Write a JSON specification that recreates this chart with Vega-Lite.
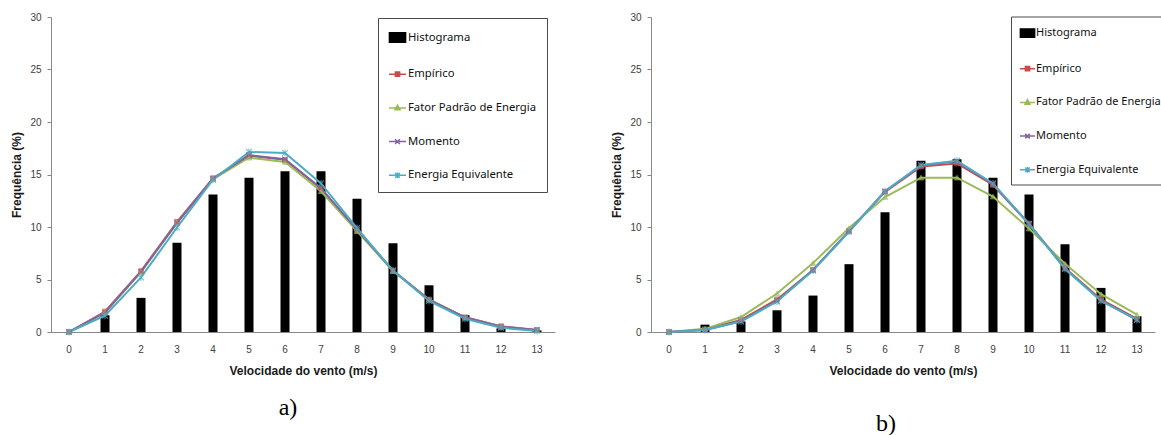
{
  "$schema": "https://vega.github.io/schema/vega-lite/v6.json",
  "background": "white",
  "padding": {"left": 10, "top": 12, "right": 0, "bottom": 0},
  "bounds": "flush",
  "spacing": 96,
  "datasets": {
    "a": [
      {"x": 0, "serie": "Histograma", "v": 0},
      {"x": 1, "serie": "Histograma", "v": 1.6},
      {"x": 2, "serie": "Histograma", "v": 3.25},
      {"x": 3, "serie": "Histograma", "v": 8.5},
      {"x": 4, "serie": "Histograma", "v": 13.1},
      {"x": 5, "serie": "Histograma", "v": 14.7},
      {"x": 6, "serie": "Histograma", "v": 15.3},
      {"x": 7, "serie": "Histograma", "v": 15.3},
      {"x": 8, "serie": "Histograma", "v": 12.7},
      {"x": 9, "serie": "Histograma", "v": 8.45},
      {"x": 10, "serie": "Histograma", "v": 4.45},
      {"x": 11, "serie": "Histograma", "v": 1.6},
      {"x": 12, "serie": "Histograma", "v": 0.35},
      {"x": 13, "serie": "Histograma", "v": 0.15},
      {"x": 0, "serie": "Empírico", "v": 0},
      {"x": 1, "serie": "Empírico", "v": 1.95},
      {"x": 2, "serie": "Empírico", "v": 5.8},
      {"x": 3, "serie": "Empírico", "v": 10.5},
      {"x": 4, "serie": "Empírico", "v": 14.65},
      {"x": 5, "serie": "Empírico", "v": 16.8},
      {"x": 6, "serie": "Empírico", "v": 16.4},
      {"x": 7, "serie": "Empírico", "v": 13.65},
      {"x": 8, "serie": "Empírico", "v": 9.7},
      {"x": 9, "serie": "Empírico", "v": 5.85},
      {"x": 10, "serie": "Empírico", "v": 3.1},
      {"x": 11, "serie": "Empírico", "v": 1.4},
      {"x": 12, "serie": "Empírico", "v": 0.55},
      {"x": 13, "serie": "Empírico", "v": 0.2},
      {"x": 0, "serie": "Fator Padrão de Energia", "v": 0},
      {"x": 1, "serie": "Fator Padrão de Energia", "v": 1.85},
      {"x": 2, "serie": "Fator Padrão de Energia", "v": 5.7},
      {"x": 3, "serie": "Fator Padrão de Energia", "v": 10.4},
      {"x": 4, "serie": "Fator Padrão de Energia", "v": 14.55},
      {"x": 5, "serie": "Fator Padrão de Energia", "v": 16.6},
      {"x": 6, "serie": "Fator Padrão de Energia", "v": 16.2},
      {"x": 7, "serie": "Fator Padrão de Energia", "v": 13.4},
      {"x": 8, "serie": "Fator Padrão de Energia", "v": 9.6},
      {"x": 9, "serie": "Fator Padrão de Energia", "v": 5.8},
      {"x": 10, "serie": "Fator Padrão de Energia", "v": 3.1},
      {"x": 11, "serie": "Fator Padrão de Energia", "v": 1.4},
      {"x": 12, "serie": "Fator Padrão de Energia", "v": 0.5},
      {"x": 13, "serie": "Fator Padrão de Energia", "v": 0.15},
      {"x": 0, "serie": "Momento", "v": 0},
      {"x": 1, "serie": "Momento", "v": 1.85},
      {"x": 2, "serie": "Momento", "v": 5.75},
      {"x": 3, "serie": "Momento", "v": 10.4},
      {"x": 4, "serie": "Momento", "v": 14.6},
      {"x": 5, "serie": "Momento", "v": 16.85},
      {"x": 6, "serie": "Momento", "v": 16.45},
      {"x": 7, "serie": "Momento", "v": 13.7},
      {"x": 8, "serie": "Momento", "v": 9.75},
      {"x": 9, "serie": "Momento", "v": 5.85},
      {"x": 10, "serie": "Momento", "v": 3.05},
      {"x": 11, "serie": "Momento", "v": 1.4},
      {"x": 12, "serie": "Momento", "v": 0.5},
      {"x": 13, "serie": "Momento", "v": 0.2},
      {"x": 0, "serie": "Energia Equivalente", "v": 0},
      {"x": 1, "serie": "Energia Equivalente", "v": 1.55},
      {"x": 2, "serie": "Energia Equivalente", "v": 5.2},
      {"x": 3, "serie": "Energia Equivalente", "v": 9.95},
      {"x": 4, "serie": "Energia Equivalente", "v": 14.5},
      {"x": 5, "serie": "Energia Equivalente", "v": 17.15},
      {"x": 6, "serie": "Energia Equivalente", "v": 17.05},
      {"x": 7, "serie": "Energia Equivalente", "v": 14.15},
      {"x": 8, "serie": "Energia Equivalente", "v": 9.9},
      {"x": 9, "serie": "Energia Equivalente", "v": 5.85},
      {"x": 10, "serie": "Energia Equivalente", "v": 2.95},
      {"x": 11, "serie": "Energia Equivalente", "v": 1.25},
      {"x": 12, "serie": "Energia Equivalente", "v": 0.4},
      {"x": 13, "serie": "Energia Equivalente", "v": 0.1}
    ],
    "b": [
      {"x": 0, "serie": "Histograma", "v": 0},
      {"x": 1, "serie": "Histograma", "v": 0.7},
      {"x": 2, "serie": "Histograma", "v": 1.0},
      {"x": 3, "serie": "Histograma", "v": 2.07},
      {"x": 4, "serie": "Histograma", "v": 3.47},
      {"x": 5, "serie": "Histograma", "v": 6.46},
      {"x": 6, "serie": "Histograma", "v": 11.4},
      {"x": 7, "serie": "Histograma", "v": 16.3},
      {"x": 8, "serie": "Histograma", "v": 16.45},
      {"x": 9, "serie": "Histograma", "v": 14.7},
      {"x": 10, "serie": "Histograma", "v": 13.1},
      {"x": 11, "serie": "Histograma", "v": 8.35},
      {"x": 12, "serie": "Histograma", "v": 4.2},
      {"x": 13, "serie": "Histograma", "v": 1.5},
      {"x": 0, "serie": "Empírico", "v": 0},
      {"x": 1, "serie": "Empírico", "v": 0.25},
      {"x": 2, "serie": "Empírico", "v": 1.15},
      {"x": 3, "serie": "Empírico", "v": 3.1},
      {"x": 4, "serie": "Empírico", "v": 5.9},
      {"x": 5, "serie": "Empírico", "v": 9.6},
      {"x": 6, "serie": "Empírico", "v": 13.35},
      {"x": 7, "serie": "Empírico", "v": 15.75},
      {"x": 8, "serie": "Empírico", "v": 16.05},
      {"x": 9, "serie": "Empírico", "v": 14.0},
      {"x": 10, "serie": "Empírico", "v": 10.3},
      {"x": 11, "serie": "Empírico", "v": 6.1},
      {"x": 12, "serie": "Empírico", "v": 3.1},
      {"x": 13, "serie": "Empírico", "v": 1.25},
      {"x": 0, "serie": "Fator Padrão de Energia", "v": 0},
      {"x": 1, "serie": "Fator Padrão de Energia", "v": 0.3},
      {"x": 2, "serie": "Fator Padrão de Energia", "v": 1.43},
      {"x": 3, "serie": "Fator Padrão de Energia", "v": 3.66},
      {"x": 4, "serie": "Fator Padrão de Energia", "v": 6.56},
      {"x": 5, "serie": "Fator Padrão de Energia", "v": 9.9},
      {"x": 6, "serie": "Fator Padrão de Energia", "v": 12.85},
      {"x": 7, "serie": "Fator Padrão de Energia", "v": 14.7},
      {"x": 8, "serie": "Fator Padrão de Energia", "v": 14.7},
      {"x": 9, "serie": "Fator Padrão de Energia", "v": 12.9},
      {"x": 10, "serie": "Fator Padrão de Energia", "v": 9.85},
      {"x": 11, "serie": "Fator Padrão de Energia", "v": 6.5},
      {"x": 12, "serie": "Fator Padrão de Energia", "v": 3.6},
      {"x": 13, "serie": "Fator Padrão de Energia", "v": 1.65},
      {"x": 0, "serie": "Momento", "v": 0},
      {"x": 1, "serie": "Momento", "v": 0.2},
      {"x": 2, "serie": "Momento", "v": 1.05},
      {"x": 3, "serie": "Momento", "v": 2.95},
      {"x": 4, "serie": "Momento", "v": 5.9},
      {"x": 5, "serie": "Momento", "v": 9.6},
      {"x": 6, "serie": "Momento", "v": 13.4},
      {"x": 7, "serie": "Momento", "v": 15.85},
      {"x": 8, "serie": "Momento", "v": 16.25},
      {"x": 9, "serie": "Momento", "v": 14.1},
      {"x": 10, "serie": "Momento", "v": 10.3},
      {"x": 11, "serie": "Momento", "v": 6.05},
      {"x": 12, "serie": "Momento", "v": 3.0},
      {"x": 13, "serie": "Momento", "v": 1.15},
      {"x": 0, "serie": "Energia Equivalente", "v": 0},
      {"x": 1, "serie": "Energia Equivalente", "v": 0.2},
      {"x": 2, "serie": "Energia Equivalente", "v": 1.0},
      {"x": 3, "serie": "Energia Equivalente", "v": 2.9},
      {"x": 4, "serie": "Energia Equivalente", "v": 5.85},
      {"x": 5, "serie": "Energia Equivalente", "v": 9.55},
      {"x": 6, "serie": "Energia Equivalente", "v": 13.4},
      {"x": 7, "serie": "Energia Equivalente", "v": 15.9},
      {"x": 8, "serie": "Energia Equivalente", "v": 16.3},
      {"x": 9, "serie": "Energia Equivalente", "v": 14.15},
      {"x": 10, "serie": "Energia Equivalente", "v": 10.3},
      {"x": 11, "serie": "Energia Equivalente", "v": 6.0},
      {"x": 12, "serie": "Energia Equivalente", "v": 2.95},
      {"x": 13, "serie": "Energia Equivalente", "v": 1.15}
    ]
  },
  "hconcat": [
    {
      "width": 504,
      "height": 315,
      "data": {"name": "a"},
      "title": {"text": "a)", "orient": "bottom", "dx": -15, "offset": 20},
      "encoding": {
        "x": {"field": "x", "type": "ordinal", "title": "Velocidade do vento (m/s)", "scale": {"paddingInner": 0, "paddingOuter": 0}},
        "y": {"field": "v", "type": "quantitative", "title": "Frequência  (%)", "scale": {"domain": [0, 30]}}
      },
      "layer": [
        {
          "transform": [{"filter": "datum.serie === 'Histograma'"}],
          "mark": {"type": "bar", "size": 9},
          "encoding": {"fill": {"field": "serie", "type": "nominal", "scale": {"domain": ["Histograma", "Empírico", "Fator Padrão de Energia", "Momento", "Energia Equivalente"], "range": ["#000000", "#C0504D", "#9BBB59", "#8064A2", "#4BACC6"]}, "legend": {"legendX": 327, "legendY": 1, "padding": 10, "rowPadding": 18.7, "symbolSize": 289, "labelFontSize": 11.3}}}
        },
        {
          "transform": [{"filter": "datum.serie !== 'Histograma'"}],
          "mark": {"type": "line", "strokeWidth": 2},
          "encoding": {"stroke": {"field": "serie", "type": "nominal", "scale": {"domain": ["Histograma", "Empírico", "Fator Padrão de Energia", "Momento", "Energia Equivalente"], "range": ["#000000", "#C0504D", "#9BBB59", "#8064A2", "#4BACC6"]}, "legend": {"legendX": 327, "legendY": 1, "padding": 10, "rowPadding": 18.7, "symbolSize": 289, "labelFontSize": 11.3}}}
        },
        {
          "transform": [{"filter": "datum.serie === 'Empírico'"}],
          "mark": {"type": "point", "shape": "square", "size": 22, "filled": true, "strokeWidth": 1},
          "encoding": {"fill": {"field": "serie", "type": "nominal"}, "stroke": {"field": "serie", "type": "nominal"}}
        },
        {
          "transform": [{"filter": "datum.serie === 'Fator Padrão de Energia'"}],
          "mark": {"type": "point", "shape": "triangle-up", "size": 28, "filled": true, "strokeWidth": 1},
          "encoding": {"fill": {"field": "serie", "type": "nominal"}, "stroke": {"field": "serie", "type": "nominal"}}
        },
        {
          "transform": [{"filter": "datum.serie === 'Momento'"}],
          "mark": {"type": "point", "shape": "M-1,-1L1,1M-1,1L1,-1", "size": 30, "filled": true, "strokeWidth": 1.2},
          "encoding": {"fill": {"field": "serie", "type": "nominal"}, "stroke": {"field": "serie", "type": "nominal"}}
        },
        {
          "transform": [{"filter": "datum.serie === 'Energia Equivalente'"}],
          "mark": {"type": "point", "shape": "M-1,-1L1,1M-1,1L1,-1M0,-1.2V1.2", "size": 34, "filled": true, "strokeWidth": 1.2},
          "encoding": {"fill": {"field": "serie", "type": "nominal"}, "stroke": {"field": "serie", "type": "nominal"}}
        },
        {
          "transform": [{"filter": "false"}],
          "mark": {"type": "point", "filled": true},
          "encoding": {
            "fill": {"field": "serie", "type": "nominal"},
            "stroke": {"field": "serie", "type": "nominal"},
            "shape": {"field": "serie", "type": "nominal", "scale": {"domain": ["Histograma", "Empírico", "Fator Padrão de Energia", "Momento", "Energia Equivalente"], "range": ["M-0.95,-0.55H0.95V0.55H-0.95Z", "M-1,0H1M-0.25,-0.25H0.25V0.25H-0.25Z", "M-1,0H1M0,-0.32L0.3,0.22H-0.3Z", "M-1,0H1M-0.28,-0.28L0.28,0.28M-0.28,0.28L0.28,-0.28", "M-1,0H1M-0.28,-0.28L0.28,0.28M-0.28,0.28L0.28,-0.28M0,-0.34V0.34"]}, "legend": {"legendX": 327, "legendY": 1, "padding": 10, "rowPadding": 18.7, "symbolSize": 289, "labelFontSize": 11.3}}
          }
        }
      ]
    },
    {
      "width": 504,
      "height": 315,
      "data": {"name": "b"},
      "title": {"text": "b)", "orient": "bottom", "dx": -17, "offset": 36},
      "encoding": {
        "x": {"field": "x", "type": "ordinal", "title": "Velocidade do vento (m/s)", "scale": {"paddingInner": 0, "paddingOuter": 0}},
        "y": {"field": "v", "type": "quantitative", "title": "Frequência  (%)", "scale": {"domain": [0, 30]}}
      },
      "layer": [
        {
          "transform": [{"filter": "datum.serie === 'Histograma'"}],
          "mark": {"type": "bar", "size": 9},
          "encoding": {"fill": {"field": "serie", "type": "nominal", "scale": {"domain": ["Histograma", "Empírico", "Fator Padrão de Energia", "Momento", "Energia Equivalente"], "range": ["#000000", "#C0504D", "#9BBB59", "#8064A2", "#4BACC6"]}, "legend": {"legendX": 360, "legendY": -0.5, "padding": 8, "rowPadding": 19.7, "symbolSize": 225, "labelFontSize": 11, "labelOffset": 0}}}
        },
        {
          "transform": [{"filter": "datum.serie !== 'Histograma'"}],
          "mark": {"type": "line", "strokeWidth": 2},
          "encoding": {"stroke": {"field": "serie", "type": "nominal", "scale": {"domain": ["Histograma", "Empírico", "Fator Padrão de Energia", "Momento", "Energia Equivalente"], "range": ["#000000", "#C0504D", "#9BBB59", "#8064A2", "#4BACC6"]}, "legend": {"legendX": 360, "legendY": -0.5, "padding": 8, "rowPadding": 19.7, "symbolSize": 225, "labelFontSize": 11, "labelOffset": 0}}}
        },
        {
          "transform": [{"filter": "datum.serie === 'Empírico'"}],
          "mark": {"type": "point", "shape": "square", "size": 22, "filled": true, "strokeWidth": 1},
          "encoding": {"fill": {"field": "serie", "type": "nominal"}, "stroke": {"field": "serie", "type": "nominal"}}
        },
        {
          "transform": [{"filter": "datum.serie === 'Fator Padrão de Energia'"}],
          "mark": {"type": "point", "shape": "triangle-up", "size": 28, "filled": true, "strokeWidth": 1},
          "encoding": {"fill": {"field": "serie", "type": "nominal"}, "stroke": {"field": "serie", "type": "nominal"}}
        },
        {
          "transform": [{"filter": "datum.serie === 'Momento'"}],
          "mark": {"type": "point", "shape": "M-1,-1L1,1M-1,1L1,-1", "size": 30, "filled": true, "strokeWidth": 1.2},
          "encoding": {"fill": {"field": "serie", "type": "nominal"}, "stroke": {"field": "serie", "type": "nominal"}}
        },
        {
          "transform": [{"filter": "datum.serie === 'Energia Equivalente'"}],
          "mark": {"type": "point", "shape": "M-1,-1L1,1M-1,1L1,-1M0,-1.2V1.2", "size": 34, "filled": true, "strokeWidth": 1.2},
          "encoding": {"fill": {"field": "serie", "type": "nominal"}, "stroke": {"field": "serie", "type": "nominal"}}
        },
        {
          "transform": [{"filter": "false"}],
          "mark": {"type": "point", "filled": true},
          "encoding": {
            "fill": {"field": "serie", "type": "nominal"},
            "stroke": {"field": "serie", "type": "nominal"},
            "shape": {"field": "serie", "type": "nominal", "scale": {"domain": ["Histograma", "Empírico", "Fator Padrão de Energia", "Momento", "Energia Equivalente"], "range": ["M-0.95,-0.55H0.95V0.55H-0.95Z", "M-1,0H1M-0.28,-0.28H0.28V0.28H-0.28Z", "M-1,0H1M0,-0.36L0.33,0.25H-0.33Z", "M-1,0H1M-0.3,-0.3L0.3,0.3M-0.3,0.3L0.3,-0.3", "M-1,0H1M-0.3,-0.3L0.3,0.3M-0.3,0.3L0.3,-0.3M0,-0.38V0.38"]}, "legend": {"legendX": 360, "legendY": -0.5, "padding": 8, "rowPadding": 19.7, "symbolSize": 225, "labelFontSize": 11, "labelOffset": 0}}
          }
        }
      ]
    }
  ],
  "resolve": {
    "scale": {"x": "independent", "y": "independent", "fill": "independent", "stroke": "independent", "shape": "independent"},
    "legend": {"fill": "independent", "stroke": "independent", "shape": "independent"}
  },
  "config": {
    "view": {"stroke": null},
    "font": "Liberation Sans",
    "title": {"font": "Liberation Serif", "fontSize": 24, "fontWeight": "normal", "color": "black", "anchor": "middle"},
    "axisX": {
      "labelAngle": 0, "ticks": false, "domainColor": "#898989", "domainWidth": 1,
      "labelFont": "Liberation Sans", "labelFontSize": 10, "labelColor": "#404040", "labelPadding": 12,
      "titleFont": "Liberation Sans", "titleFontSize": 12, "titleFontWeight": "bold", "titleColor": "#1a1a1a", "titlePadding": 11,
      "grid": false
    },
    "axisY": {
      "values": [0, 5, 10, 15, 20, 25, 30], "grid": false, "domainColor": "#898989", "tickColor": "#898989", "tickSize": 4,
      "labelFont": "Liberation Sans", "labelFontSize": 10, "labelColor": "#404040", "labelPadding": 6,
      "titleFont": "Liberation Sans", "titleFontSize": 12, "titleFontWeight": "bold", "titleColor": "#1a1a1a", "titlePadding": 6
    },
    "legend": {
      "orient": "none", "title": null,
      "labelFont": "Noto Sans", "labelColor": "#111111", "labelLimit": 300,
      "strokeColor": "#4a4a4a", "fillColor": "white",
      "symbolStrokeWidth": 1.5, "labelOffset": 1, "symbolOpacity": 1
    }
  }
}
